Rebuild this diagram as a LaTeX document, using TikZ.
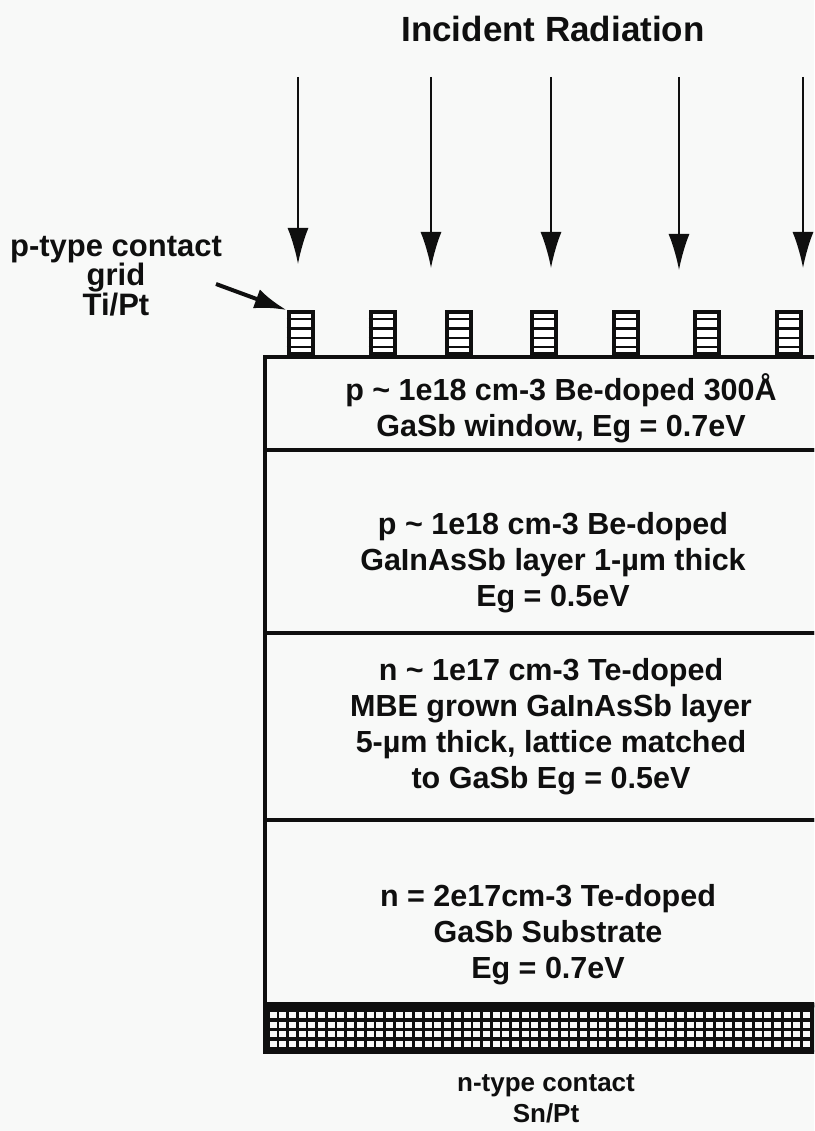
\documentclass[tikz,border=0pt]{standalone}
\usepackage{fontspec}
\setmainfont{Liberation Sans}
\usepackage{tikz}
\usetikzlibrary{positioning, arrows.meta}
\definecolor{paperGrey}{RGB}{248, 249, 248}
\definecolor{inkBlack}{RGB}{15, 15, 15}

\begin{document}
\begin{tikzpicture}[
    x=1pt, y=-1pt,
    layer/.style={rectangle, draw=inkBlack, line width=4pt, minimum width=570pt,
                  outer sep=0pt, inner sep=0pt},
    layertext/.style={text=inkBlack, font=\bfseries\fontsize{30.5}{36}\selectfont, align=center},
    sidetext/.style={text=inkBlack, font=\bfseries\fontsize{31}{29}\selectfont, align=center},
    contact/.style={rectangle, draw=inkBlack, line width=4pt, fill=white,
                    minimum width=24pt, minimum height=42pt, inner sep=0pt},
    ray/.style={draw=inkBlack, line width=2pt, -{Latex[length=36pt,width=21pt]}},
    pointer/.style={draw=inkBlack, line width=4pt, -{Latex[length=32pt,width=20pt]}}
  ]
    \clip (0,0) rectangle (814,1131);
    \fill[paperGrey] (0,0) rectangle (814,1131);

    % layer stack
    \node[layer, anchor=north west, minimum height=93pt] (WIN) at (265,357) {};
    \node[layer, below=0pt of WIN, minimum height=183pt] (PLAYER) {};
    \node[layer, below=0pt of PLAYER, minimum height=187pt] (NLAYER) {};
    \node[layer, below=0pt of NLAYER, minimum height=185pt] (SUB) {};
    \node[layer, below=0pt of SUB, minimum height=47pt, fill=inkBlack] (BACK) {};

    % back contact cells
    \foreach \row in {1015,1024.5,1034,1044}
      \foreach \col in {273,282.7,...,814}
        \fill[paperGrey] (\col-3.5,\row-3) rectangle (\col+3.5,\row+3);
    \draw[inkBlack, line width=6pt] (BACK.north west) -- (BACK.north east);

    % layer labels
    \node[layertext] (WINT) at (561,408) {p \textasciitilde{} 1e18 cm-3 Be-doped 300Å\\GaSb window, Eg = 0.7eV};
    \node[layertext] (PLAYERT) at (553,563) {p \textasciitilde{} 1e18 cm-3 Be-doped\\GaInAsSb layer 1-µm thick\\Eg = 0.5eV};
    \node[layertext] (NLAYERT) at (551,727) {n \textasciitilde{} 1e17 cm-3 Te-doped\\MBE grown GaInAsSb layer\\5-µm thick, lattice matched\\to GaSb Eg = 0.5eV};
    \node[layertext] (SUBT) at (548,935) {n = 2e17cm-3 Te-doped\\GaSb Substrate\\Eg = 0.7eV};

    % grid fingers and rays
    \foreach \name/\xpos in {A/300.5,B/382.5,C/459,D/544,E/626,F/707,G/789} {
      \node[contact] (\name) at (\xpos,333) {};
      \foreach \yoff in {-14,-5,4.5,14}
        \draw[inkBlack, line width=2.5pt] ([yshift=\yoff pt]\name.west) -- ([yshift=\yoff pt]\name.east);
    }
    \foreach \name/\xpos/\ytip in {RA/298/264,RB/431/268,RC/551/268,RD/679/270,RE/803/268} {
      \coordinate (\name0) at (\xpos,77);
      \coordinate (\name1) at (\xpos,\ytip);
      \draw[ray] (\name0) -- (\name1);
    }

    \node[text=inkBlack, font=\bfseries\fontsize{35}{40}\selectfont] (TITLE) at (553,29) {Incident Radiation};
    \node[sidetext] (GRID) at (116,276) {p-type contact\\grid\\Ti/Pt};
    \coordinate (POINT) at (216,284);
    \draw[pointer] (POINT) -- (A.north west);
    \node[sidetext, font=\bfseries\fontsize{26}{31}\selectfont] (NC) at (546,1099) {n-type contact\\Sn/Pt};
\end{tikzpicture}
\end{document}
